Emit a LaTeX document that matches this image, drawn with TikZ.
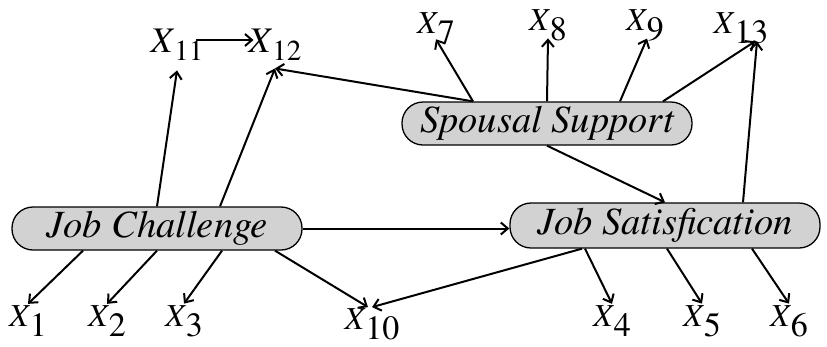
\documentclass[tikz,border=0pt]{standalone}
\usepackage{fontspec}
\setmainfont{texgyretermes}[Extension=.otf, UprightFont=*-regular, ItalicFont=*-italic, BoldFont=*-bold, BoldItalicFont=*-bolditalic]
\usetikzlibrary{arrows.meta}
\newcommand{\obsvar}[1]{\textit{X}\raisebox{-10pt}{\fontsize{34}{36}\selectfont #1}}
\newcommand{\obsvarb}[1]{{\fontsize{36}{38}\selectfont\textit{X}}\raisebox{-8pt}{\fontsize{29}{31}\selectfont #1}}
\tikzset{
  latent/.style={
    draw=black,
    line width=1.3pt,
    fill=gray!35,
    rounded corners=21pt,
    minimum height=43pt,
    inner sep=0pt,
    font=\fontsize{38.5}{40}\selectfont\itshape
  },
  obs/.style={
    inner sep=1.5pt,
    font=\fontsize{32}{34}\selectfont
  },
  arrow/.style={
    -{Straight Barb[length=7pt,width=12pt]},
    line width=2pt
  }
}

\begin{document}
\begin{tikzpicture}[x=1pt,y=-1pt]
\useasboundingbox (0,0) rectangle (827,346);

\node[latent, minimum width=290pt] (jc) at (157,228.5) {Job Challenge};
\node[latent, minimum width=290pt] (ss) at (547,123.5) {Spousal Support};
\node[latent, minimum width=310pt, minimum height=45pt] (js) at (665,225.5) {Job Satisfication};

\node[obs] (x1) at (28,321) {\obsvar{1}};
\node[obs] (x2) at (107,321) {\obsvar{2}};
\node[obs] (x3) at (184,321) {\obsvar{3}};
\node[obs] (x10) at (372,324.5) {\obsvar{10}};
\node[obs] (x4) at (612,321) {\obsvar{4}};
\node[obs] (x5) at (702,321) {\obsvar{5}};
\node[obs] (x6) at (789,321) {\obsvar{6}};

\node[obs] (x7) at (436,28) {\obsvar{7}};
\node[obs] (x8) at (548,25) {\obsvar{8}};
\node[obs] (x9) at (645,25) {\obsvar{9}};
\node[obs] (x13) at (741,28) {\obsvar{13}};
\node[obs] (x11) at (177,45) {\obsvarb{11}};
\node[obs] (x12) at (275,45) {\obsvarb{12}};

% job challenge
\draw[arrow] ([xshift=-74pt]jc.south) -- (x1.north);
\draw[arrow] (jc.south) -- (x2.north);
\draw[arrow] ([xshift=65pt]jc.south) -- (x3.north);
\draw[arrow] ([xshift=118pt]jc.south) -- ([xshift=-4pt]x10.north);
\draw[arrow] (jc.north) -- ([yshift=-8pt]x11.south);
\draw[arrow] ([xshift=63pt]jc.north) -- ([yshift=-6pt]x12.south);
\draw[arrow] (jc.east) -- (js.west |- jc.east);
\draw[arrow] ([xshift=-9pt,yshift=5pt]x11.east) -- ([xshift=6.5pt,yshift=5pt]x12.west);

% spousal support
\draw[arrow] ([xshift=-74pt]ss.north) -- ([yshift=-6pt]x12.south);
\draw[arrow] ([xshift=-74pt]ss.north) -- ([yshift=6pt]x7.south);
\draw[arrow] (ss.north) -- ([yshift=4pt]x8.south);
\draw[arrow] ([xshift=73pt]ss.north) -- ([xshift=2pt,yshift=4pt]x9.south);
\draw[arrow] ([xshift=116pt]ss.north) -- ([xshift=14pt,yshift=4pt]x13.south);
\draw[arrow] (ss.south) -- (js.north);

% job satisfication
\draw[arrow] ([xshift=78pt]js.north) -- ([xshift=16pt,yshift=4pt]x13.south);
\draw[arrow] ([xshift=-83pt]js.south) -- (x10.north);
\draw[arrow] ([xshift=-80pt]js.south) -- (x4.north);
\draw[arrow] ([xshift=2pt]js.south) -- (x5.north);
\draw[arrow] ([xshift=87pt]js.south) -- (x6.north);
\end{tikzpicture}
\end{document}
